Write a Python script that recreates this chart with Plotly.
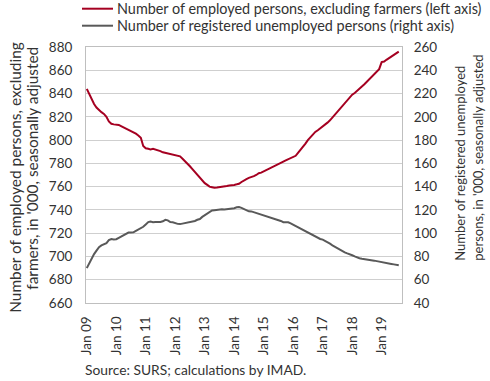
import plotly.graph_objects as go
import pandas as pd

months = pd.date_range("2009-01-01", "2019-08-01", freq="MS")

employed = [
    844, 839, 835, 831, 828, 825.5, 824, 822.5, 820, 816, 814, 813.5,
    813.5, 813, 812, 811, 810, 808.5, 807.5, 806.5, 805.5, 804, 802, 795,
    793, 792.5, 792, 792.5, 792, 791, 790.5, 789.5, 789, 788.5, 788, 787.5,
    787, 786.5, 786, 784, 782, 780, 777.5, 775, 772.5, 770, 768, 766,
    763, 761.5, 760, 759.5, 759, 759.2, 759.4, 759.6, 760, 760.5, 761, 761,
    761.5, 762, 762.5, 764, 765.5, 766.5, 767.5, 768, 769, 770, 771.5, 772,
    773, 774, 775, 776, 777, 778, 779, 780.5, 781.5, 782.5, 783.5, 784.5,
    785.5, 786.5, 789, 791.5, 794, 797, 800, 802.5, 805, 807, 808.5, 810,
    811.5, 813, 815, 817, 819.5, 822, 824.5, 827, 829.5, 831.5, 834, 836.5,
    839, 840.5, 842.5, 844.5, 846, 848, 850, 852, 854.5, 856.5, 858.5, 861,
    867, 867.5, 869, 870.5, 872, 873.5, 875, 876,
]

unemployed = [
    70, 74, 78.5, 82, 85, 88, 89.5, 90.5, 91.5, 94, 95, 94.5,
    94.8, 96, 97, 98, 99.5, 100.5, 100.5, 100.7, 102, 103, 104, 105.5,
    107.5, 109.5, 110, 109.5, 109.7, 109.5, 109.7, 110.2, 111.5, 111, 109.5, 109.3,
    108.5, 108, 107.8, 108.2, 108.5, 109, 109.6, 109.7, 110.5, 111.5, 112.2, 114,
    115.5, 117, 118.5, 119.5, 119.8, 120.2, 120.3, 120.5, 120.3, 120.6, 120.8, 121,
    121.5, 122.3, 122.5, 121.8, 120.8, 120, 118.8, 118.7, 118, 117.4, 117, 116.4,
    115.8, 114.7, 114, 113.4, 113, 112.3, 111.5, 110.5, 109.5, 109.3, 109.4, 108.5,
    107.3, 106.2, 105, 104, 103, 102, 100.7, 99.5, 98.3, 97, 95.8, 95,
    94.5, 93.5, 92.2, 91, 89.6, 88.3, 87, 85.8, 84.5, 83.5, 82.6, 82,
    81, 80, 79, 78.5, 78, 77.8, 77.6, 77.2, 76.8, 76.4, 76, 75.5,
    75, 74.8, 74.5, 74, 73.6, 73.2, 72.8, 72.4,
]

tick_dates = pd.date_range("2009-01-01", "2019-01-01", freq="YS")
tick_labels = ["Jan 09", "Jan 10", "Jan 11", "Jan 12", "Jan 13", "Jan 14",
               "Jan 15", "Jan 16", "Jan 17", "Jan 18", "Jan 19"]

series_names = ["Number of employed persons, excluding farmers (left axis)",
                "Number of registered unemployed persons (right axis)"]
series_colors = ["#A50021", "#595959"]
left_title = ["Number of employed persons, excluding",
              "farmers, in '000, seasonally adjusted"]
right_title = ["Number of registered unemployed",
               "persons, in '000, seasonally adjusted"]
source_text = "Source: SURS; calculations by IMAD."

FONT = "Lato"
TXT = "#333333"
GRID = "#cfcfcf"
FRAME = "#bfbfbf"
INVIS = "rgba(0,0,0,0)"

fig = go.Figure()
fig.add_trace(go.Scatter(
    x=months, y=employed, mode="lines", name=series_names[0],
    line=dict(color=series_colors[0], width=2), yaxis="y"))
fig.add_trace(go.Scatter(
    x=months, y=unemployed, mode="lines", name=series_names[1],
    line=dict(color=series_colors[1], width=2), yaxis="y2"))

ann = [
    dict(text=left_title[0], x=-0.2247, y=0.493, textangle=-90, font=dict(size=15.4, color=TXT)),
    dict(text=left_title[1], x=-0.1709, y=0.5285, textangle=-90, font=dict(size=15.4, color=TXT)),
    dict(text=right_title[0], x=1.1835, y=0.548, textangle=-90, font=dict(size=13, color=TXT)),
    dict(text=right_title[1], x=1.2405, y=0.5676, textangle=-90, font=dict(size=13, color=TXT)),
]
for a in ann:
    a.update(xref="paper", yref="paper", xanchor="center", yanchor="middle", showarrow=False)
ann.append(dict(text=source_text, xref="paper", yref="paper", x=-0.0095, y=-0.2605,
                xanchor="left", yanchor="middle", showarrow=False,
                font=dict(size=13.8, color=TXT)))

# legend drawn manually for exact placement
shapes = []
legend_rows = [1.1496, 1.0832]
for name, col, ry in zip(series_names, series_colors, legend_rows):
    shapes.append(dict(type="line", xref="paper", yref="paper", x0=-0.0127, x1=0.0854,
                       y0=ry, y1=ry, line=dict(color=col, width=2)))
    ann.append(dict(text=name, xref="paper", yref="paper", x=0.0918, y=ry,
                    xanchor="left", yanchor="middle", showarrow=False,
                    font=dict(size=14.4, color=TXT)))

fig.update_layout(
    width=490, height=381,
    margin=dict(l=86, r=88, t=47, b=78, autoexpand=False),
    paper_bgcolor="white", plot_bgcolor="white",
    font=dict(family=FONT, size=13, color=TXT),
    showlegend=False,
    xaxis=dict(
        type="date", range=["2008-12-22", "2019-09-10"],
        tickmode="array", tickvals=tick_dates, ticktext=tick_labels,
        tickangle=-90, showgrid=False, showline=True, linecolor=FRAME,
        linewidth=1, mirror=True, ticks="outside", ticklen=7, tickcolor=INVIS,
        tickfont=dict(size=13.5, color=TXT)),
    yaxis=dict(
        range=[660, 880], dtick=20, showgrid=True, gridcolor=GRID, gridwidth=1,
        showline=True, linecolor=FRAME, linewidth=1, mirror=True,
        ticks="outside", ticklen=10, tickcolor=INVIS, zeroline=False,
        tickfont=dict(size=13.5, color=TXT)),
    yaxis2=dict(
        range=[40, 260], dtick=20, overlaying="y", side="right", showgrid=False,
        showline=False, ticks="outside", ticklen=8, tickcolor=INVIS, zeroline=False,
        tickfont=dict(size=13.5, color=TXT)),
    annotations=ann,
    shapes=shapes,
)

fig.write_html("out.html", config={"displayModeBar": False},
               post_script="document.body.style.margin='0';")
